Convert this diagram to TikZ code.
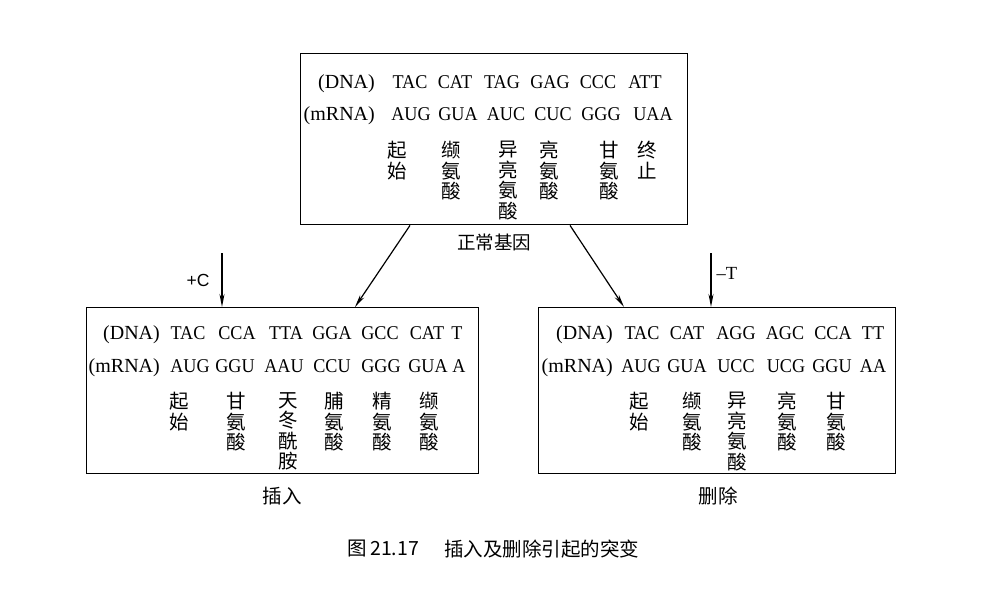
\documentclass[tikz,border=0pt]{standalone}
\usepackage{fontspec}
\setmainfont{Liberation Serif}
\setsansfont{Liberation Sans}
\newfontfamily\seqfont[FakeStretch=0.93]{Liberation Serif}
\newfontfamily\cjk{Noto Sans CJK SC}
\usetikzlibrary{arrows.meta,calc}
\begin{document}
\begin{tikzpicture}[x=1pt,y=-1pt,
 box/.style={draw,line width=1.4pt,inner sep=0,anchor=north west},
 seq/.style={anchor=base,inner sep=0,font=\seqfont\fontsize{19.5}{24}\selectfont},
 lab/.style={anchor=base east,inner sep=0,font=\fontsize{20}{24}\selectfont},
 aa/.style={anchor=north,inner sep=0,align=center,font=\cjk\fontsize{19.5}{20.5}\selectfont},
 captxt/.style={inner sep=0,font=\cjk\fontsize{19.5}{20}\selectfont},
 conn/.style={line width=1.2pt,-{Stealth[length=13pt,width=5pt]}},
]
\useasboundingbox (0,0) rectangle (982,592);

% boxes
\node[box,minimum width=387pt,minimum height=171pt] (top) at (300,53) {};
\node[box,minimum width=392pt,minimum height=166pt] (left) at (86,307) {};
\node[box,minimum width=357pt,minimum height=166pt] (right) at (538,307) {};

% top box
\node[lab] (tdl) at (375,88) {(DNA)};
\node[lab] (tml) at (375,120) {(mRNA)};
\foreach \x/\t [count=\i] in {410/TAC,455/CAT,502/TAG,550/GAG,598/CCC,645/ATT}
  \node[seq] (td\i) at (\x,88) {\t};
\foreach \x/\t [count=\i] in {411/AUG,458/GUA,506/AUC,553/CUC,601/GGG,653/UAA}
  \node[seq] (tm\i) at (\x,120) {\t};
\foreach \x/\t [count=\i] in {397/起\\始,451/缬\\氨\\酸,508/异\\亮\\氨\\酸,549/亮\\氨\\酸,609/甘\\氨\\酸,647/终\\止}
  \node[aa] (ta\i) at (\x,141) {\t};

% left box
\node[lab] (ldl) at (160,339) {(DNA)};
\node[lab] (lml) at (160,372) {(mRNA)};
\foreach \x/\t [count=\i] in {188/TAC,237/CCA,286/TTA,332/GGA,380/GCC,427/CAT,457/T}
  \node[seq] (ld\i) at (\x,339) {\t};
\foreach \x/\t [count=\i] in {190/AUG,235/GGU,284/AAU,332/CCU,381/GGG,428/GUA,459/A}
  \node[seq] (lm\i) at (\x,372) {\t};
\foreach \x/\t [count=\i] in {179/起\\始,236/甘\\氨\\酸,288/天\\冬\\酰\\胺,334/脯\\氨\\酸,382/精\\氨\\酸,429/缬\\氨\\酸}
  \node[aa] (la\i) at (\x,392) {\t};

% right box
\node[lab] (rdl) at (613,339) {(DNA)};
\node[lab] (rml) at (613,372) {(mRNA)};
\foreach \x/\t [count=\i] in {642/TAC,687/CAT,736/AGG,785/AGC,833/CCA,873/TT}
  \node[seq] (rd\i) at (\x,339) {\t};
\foreach \x/\t [count=\i] in {641/AUG,687/GUA,736/UCC,786/UCG,832/GGU,873/AA}
  \node[seq] (rm\i) at (\x,372) {\t};
\foreach \x/\t [count=\i] in {639/起\\始,692/缬\\氨\\酸,737/异\\亮\\氨\\酸,787/亮\\氨\\酸,836/甘\\氨\\酸}
  \node[aa] (ra\i) at (\x,392) {\t};

% labels
\node[captxt,font=\cjk\fontsize{18.5}{20}\selectfont] (normal) at (494,242) {正常基因};
\node[captxt] (ins) at (282,496) {插入};
\node[captxt] (del) at (718,496) {删除};
\node[inner sep=0,font=\sffamily\fontsize{17.5}{20}\selectfont] (plusc) at (198,280) {+C};
\node[inner sep=0,font=\fontsize{18.5}{20}\selectfont] (minust) at (727,273) {–T};

% caption
\node[captxt,anchor=west] (fig) at (347,549) {图};
\node[captxt,anchor=west] (fignum) at (370,549) {21.17};
\node[captxt,anchor=west] (figtxt) at (444,549) {插入及删除引起的突变};

% connectors
\coordinate (tl) at ($(top.south west)+(110,0)$);
\coordinate (tr) at ($(top.south west)+(270,0)$);
\coordinate (lt) at ($(left.north west)+(269,0)$);
\coordinate (rt) at ($(right.north west)+(86,0)$);
\draw[conn] (tl) -- (lt);
\draw[conn] (tr) -- (rt);
\coordinate (cs) at (222,253);
\coordinate (ce) at ($(left.north west)+(136,0)$);
\draw[conn] (cs) -- (ce);
\coordinate (ts) at (711,253);
\coordinate (te) at ($(right.north west)+(173,0)$);
\draw[conn] (ts) -- (te);
\end{tikzpicture}
\end{document}
